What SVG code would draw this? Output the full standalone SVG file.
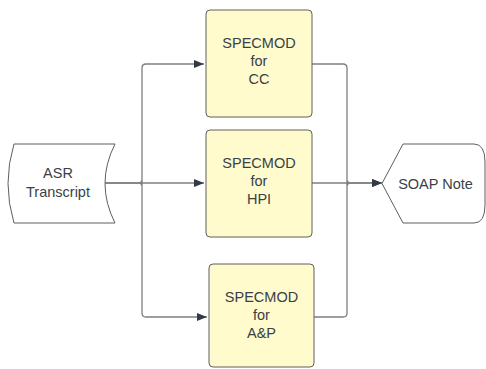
<svg xmlns="http://www.w3.org/2000/svg" width="486" height="369" viewBox="0 0 486 369">
<defs>
<marker id="arr" viewBox="0 0 10 8" refX="10" refY="4" markerWidth="10" markerHeight="8" markerUnits="userSpaceOnUse" orient="auto">
<path d="M0,0 L10,4 L0,8 Z" fill="#333a45"/>
</marker>
</defs>
<style>
.box{fill:#fffbcc;stroke:#5e5e5e;stroke-width:1}
.shape{fill:#ffffff;stroke:#5e5e5e;stroke-width:1}
.t{font-family:"Liberation Sans",Arial,sans-serif;font-size:14.5px;fill:#3a3f48;text-anchor:middle}
.c{fill:none;stroke:#7f7f7f;stroke-width:1.3}
</style>
<g id="connectors">
<path class="c" d="M105,183 L142,183 L142,68 Q142,64 146,64 L204,64" marker-end="url(#arr)"/>
<path class="c" d="M105,183 L204,183" marker-end="url(#arr)"/>
<path class="c" d="M142,183 L142,313 Q142,317 146,317 L207,317" marker-end="url(#arr)"/>
<path class="c" d="M312,64 L343,64 Q347,64 347,68 L347,183 L382,183" marker-end="url(#arr)"/>
<path class="c" d="M312,183 L382,183" marker-end="url(#arr)"/>
<path class="c" d="M314,317 L343,317 Q347,317 347,313 L347,183"/>
<path class="c" d="M142,180.5 Q139.5,183 142,185.5"/>
<path class="c" d="M347,180.5 Q349.5,183 347,185.5"/>
</g>
<g id="asr">
<path class="shape" d="M14,144 L115,144 Q95,183.5 115,223 L14,223 Q2,183.5 14,144 Z"/>
<text class="t" x="58" y="178">ASR</text>
<text class="t" x="58" y="197">Transcript</text>
</g>
<g id="cc">
<rect class="box" x="206" y="10" width="106" height="107" rx="4"/>
<text class="t" x="259" y="48">SPECMOD</text>
<text class="t" x="259" y="66">for</text>
<text class="t" x="259" y="84">CC</text>
</g>
<g id="hpi">
<rect class="box" x="206" y="130" width="106" height="107" rx="4"/>
<text class="t" x="259" y="168">SPECMOD</text>
<text class="t" x="259" y="186">for</text>
<text class="t" x="259" y="204">HPI</text>
</g>
<g id="ap">
<rect class="box" x="209" y="264" width="105" height="103" rx="4"/>
<text class="t" x="261.5" y="302">SPECMOD</text>
<text class="t" x="261.5" y="320">for</text>
<text class="t" x="261.5" y="338">A&amp;P</text>
</g>
<g id="soap">
<path class="shape" d="M382,183.5 L403,144 L474,144 Q485,144 485,162 L485,205 Q485,223 474,223 L403,223 Z"/>
<text class="t" x="435.5" y="188.5">SOAP Note</text>
</g>
</svg>
